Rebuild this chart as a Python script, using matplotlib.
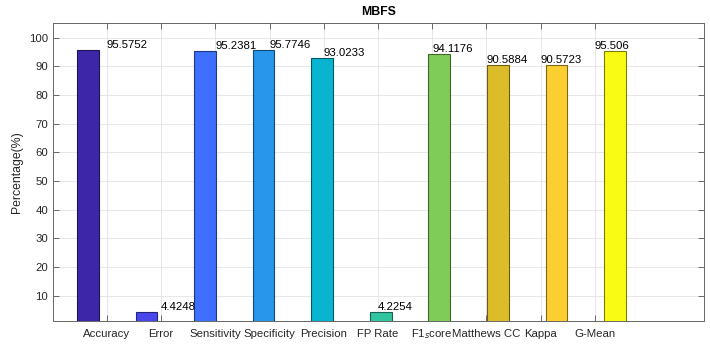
import matplotlib
matplotlib.use('Agg')
import matplotlib.pyplot as plt
import numpy as np

plt.rcParams['font.family'] = ['Liberation Sans', 'DejaVu Sans']

# data
metrics = ['Accuracy', 'Error', 'Sensitivity', 'Specificity', 'Precision',
           'FP Rate', 'F1$_s$core', 'Matthews CC', 'Kappa', 'G-Mean']
values = [95.5752, 4.4248, 95.2381, 95.7746, 93.0233,
          4.2254, 94.1176, 90.5884, 90.5723, 95.506]
value_text = ['95.5752', '4.4248', '95.2381', '95.7746', '93.0233',
              '4.2254', '94.1176', '90.5884', '90.5723', '95.506']

# parula-like colours, one per bar
colors = ['#3e26a8', '#4747eb', '#3e6ffe', '#2796eb', '#08b4d0',
          '#31c69f', '#80cc59', '#dcbd29', '#fccf30', '#f9fb14']
edges = ['#1f1455', '#23247a', '#1f3880', '#144b76', '#045a68',
         '#186350', '#40662c', '#6e5e14', '#7e6818', '#7c7d0a']

x = np.arange(1, len(values) + 1)
# tick/label positions are offset from the bars in the original figure
tick_pos = 1.324 + 0.9256 * np.arange(len(values))

fig = plt.figure(figsize=(7.1, 3.45), dpi=100)
ax = fig.add_axes([0.0746, 0.0704, 0.9169, 0.8621])

ax.bar(x, values, width=0.37, color=colors, edgecolor=edges, linewidth=0.8, zorder=3)

for tp, v, s in zip(tick_pos, values, value_text):
    ax.text(tp, v, s, ha='left', va='bottom', fontsize=8.2, color='black', zorder=4)

ax.set_xlim(0.402, 11.52)
ax.set_ylim(1.3, 105)
ax.set_xticks(tick_pos)
ax.set_xticklabels(metrics, fontsize=8.2, color='#262626')
for lab in ax.get_xticklabels():
    lab.set_verticalalignment('baseline')
ax.set_yticks(np.arange(10, 101, 10))
ax.tick_params(axis='y', labelsize=8.2, labelcolor='#262626')
ax.tick_params(direction='in', top=True, right=True, length=4, color='#555555', width=0.6)
ax.tick_params(axis='x', pad=12)

ax.grid(True, color='#e3e3e3', linewidth=0.6, zorder=0)
for sp in ax.spines.values():
    sp.set_color('#666666')
    sp.set_linewidth(0.7)

ax.set_ylabel('Percentage(%)', fontsize=8.8, color='#262626')
ax.set_title('MBFS', fontsize=8.8, fontweight='bold', color='black', pad=6)

fig.savefig('out.png', dpi=100)
